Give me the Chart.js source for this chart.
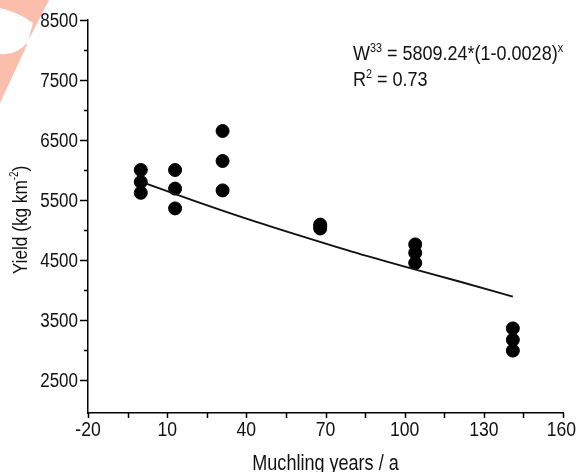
<!DOCTYPE html>
<html>
<head>
<meta charset="utf-8">
<script src="https://cdn.jsdelivr.net/npm/chart.js@4"></script>
<style>
  html, body { margin: 0; padding: 0; background: #fff; }
</style>
</head>
<body>
<canvas id="yield-chart" width="576" height="472"></canvas>
<script>
const FONT = "'Liberation Sans', Arial, sans-serif";

// observed yields per plot
const pointYears = [0, 0, 0, 13, 13, 13, 31, 31, 31, 68, 68, 68, 104, 104, 104, 141, 141, 141];
const pointYield = [6000, 5800, 5620, 6000, 5690, 5360, 6650, 6150, 5660, 5090, 5060, 5025, 4760, 4620, 4450, 3360, 3170, 2990];

// fitted curve
const curveYears = [1, 20, 40, 60, 80, 100, 120, 141];
const curveYield = [5790, 5490, 5190, 4910, 4640, 4390, 4150, 3890];

// axis ticks
const xMajor = [-20, 10, 40, 70, 100, 130, 160];
const xMinor = [-5, 25, 55, 85, 115, 145];
const yMajor = [2500, 3500, 4500, 5500, 6500, 7500, 8500];
const yMinor = [3000, 4000, 5000, 6000, 7000, 8000];

const ctx = document.getElementById("yield-chart");

// parts: [text, isSuperscript]
function partsWidth(c, parts, size) {
  let w = 0;
  parts.forEach((p) => {
    c.font = (p[1] ? Math.round(size * 0.58) : size) + "px " + FONT;
    w += c.measureText(p[0]).width;
  });
  return w;
}

// condensed text: sx squeezes the glyphs horizontally
function drawText(c, parts, x, y, size, sx, align, angle) {
  const w = partsWidth(c, parts, size);
  let start = 0;
  if (align === "center") start = -w / 2;
  if (align === "right") start = -w;
  c.save();
  c.translate(x, y);
  if (angle) c.rotate(angle);
  c.scale(sx, 1);
  c.textAlign = "left";
  c.textBaseline = "alphabetic";
  let cx = start;
  parts.forEach((p) => {
    const sup = p[1];
    c.font = (sup ? Math.round(size * 0.58) : size) + "px " + FONT;
    c.fillText(p[0], cx, sup ? -size * 0.42 : 0);
    cx += c.measureText(p[0]).width;
  });
  c.restore();
}

const framePlugin = {
  id: "frame",
  beforeDraw(chart) {
    const c = chart.ctx;
    c.save();
    // stamp in the corner
    c.fillStyle = "rgb(252,190,172)";
    c.beginPath();
    c.moveTo(0, 0);
    c.lineTo(49, 0);
    c.lineTo(30, 37);
    c.lineTo(26, 42);
    c.lineTo(27, 45);
    c.lineTo(0, 103);
    c.closePath();
    c.fill();
    c.fillStyle = "#fff";
    c.beginPath();
    c.moveTo(0, 8);
    c.quadraticCurveTo(18, 12, 33, 23);
    c.quadraticCurveTo(30, 33, 28, 42);
    c.quadraticCurveTo(16, 56, 0, 54);
    c.closePath();
    c.fill();
    c.restore();
  },
  afterDraw(chart) {
    const c = chart.ctx;
    const xs = chart.scales.x;
    const ys = chart.scales.y;
    const area = chart.chartArea;
    c.save();
    c.strokeStyle = "#000";
    c.lineWidth = 1.5;
    c.beginPath();
    // y ticks point left
    yMajor.forEach((v) => {
      const py = Math.round(ys.getPixelForValue(v)) + 0.5;
      c.moveTo(area.left - 8, py);
      c.lineTo(area.left, py);
    });
    yMinor.forEach((v) => {
      const py = Math.round(ys.getPixelForValue(v)) + 0.5;
      c.moveTo(area.left - 4, py);
      c.lineTo(area.left, py);
    });
    // x ticks point down
    xMajor.concat(xMinor).forEach((v) => {
      const px = Math.round(xs.getPixelForValue(v)) + 0.5;
      c.moveTo(px, area.bottom);
      c.lineTo(px, area.bottom + 5);
    });
    c.stroke();

    c.fillStyle = "#111";

    // tick labels
    yMajor.forEach((v) => {
      drawText(c, [[String(v), false]], area.left - 10, ys.getPixelForValue(v) + 7, 20, 0.85, "right");
    });
    xMajor.forEach((v) => {
      const half = partsWidth(c, [[String(v), false]], 20) * 0.88 / 2;
      const px = Math.min(xs.getPixelForValue(v), chart.width - half);
      drawText(c, [[String(v), false]], px, area.bottom + 23, 20, 0.88, "center");
    });

    // axis titles
    drawText(c, [["Muchling years / a", false]], (area.left + area.right) / 2, 470, 22, 0.82, "center");
    drawText(c, [["Yield (kg km", false], ["-2", true], [")", false]], 27, 220, 21, 0.82, "center", -Math.PI / 2);

    // fit equation
    drawText(c, [["W", false], ["33", true], [" = 5809.24*(1-0.0028)", false], ["x", true]], 353, 60, 20, 0.9, "left");
    drawText(c, [["R", false], ["2", true], [" = 0.73", false]], 353, 86, 20, 0.9, "left");
    c.restore();
  },
};

new Chart(ctx, {
  type: "scatter",
  data: {
    datasets: [
      {
        label: "fit",
        type: "line",
        data: curveYears.map((x, i) => ({ x: x, y: curveYield[i] })),
        borderColor: "#111",
        borderWidth: 2,
        pointRadius: 0,
        cubicInterpolationMode: "monotone",
        fill: false,
      },
      {
        label: "yield",
        data: pointYears.map((x, i) => ({ x: x, y: pointYield[i] })),
        backgroundColor: "#000",
        borderColor: "#000",
        pointRadius: 6.5,
        pointHoverRadius: 6.5,
      },
    ],
  },
  options: {
    responsive: false,
    animation: false,
    devicePixelRatio: 1,
    layout: { padding: { top: 20, right: 13, left: 0, bottom: 0 } },
    plugins: {
      legend: { display: false },
      tooltip: { enabled: false },
    },
    scales: {
      x: {
        type: "linear",
        min: -20,
        max: 160,
        afterBuildTicks: (s) => { s.ticks = xMajor.map((v) => ({ value: v })); },
        afterFit: (s) => { s.height = 59; },
        grid: { display: false, drawTicks: false },
        border: { display: true, color: "#000", width: 1.5 },
        ticks: { display: false },
      },
      y: {
        type: "linear",
        min: 1950,
        max: 8500,
        afterBuildTicks: (s) => { s.ticks = yMajor.map((v) => ({ value: v })); },
        afterFit: (s) => { s.width = 88; },
        grid: { display: false, drawTicks: false },
        border: { display: true, color: "#000", width: 1.5 },
        ticks: { display: false },
      },
    },
  },
  plugins: [framePlugin],
});
</script>
</body>
</html>
